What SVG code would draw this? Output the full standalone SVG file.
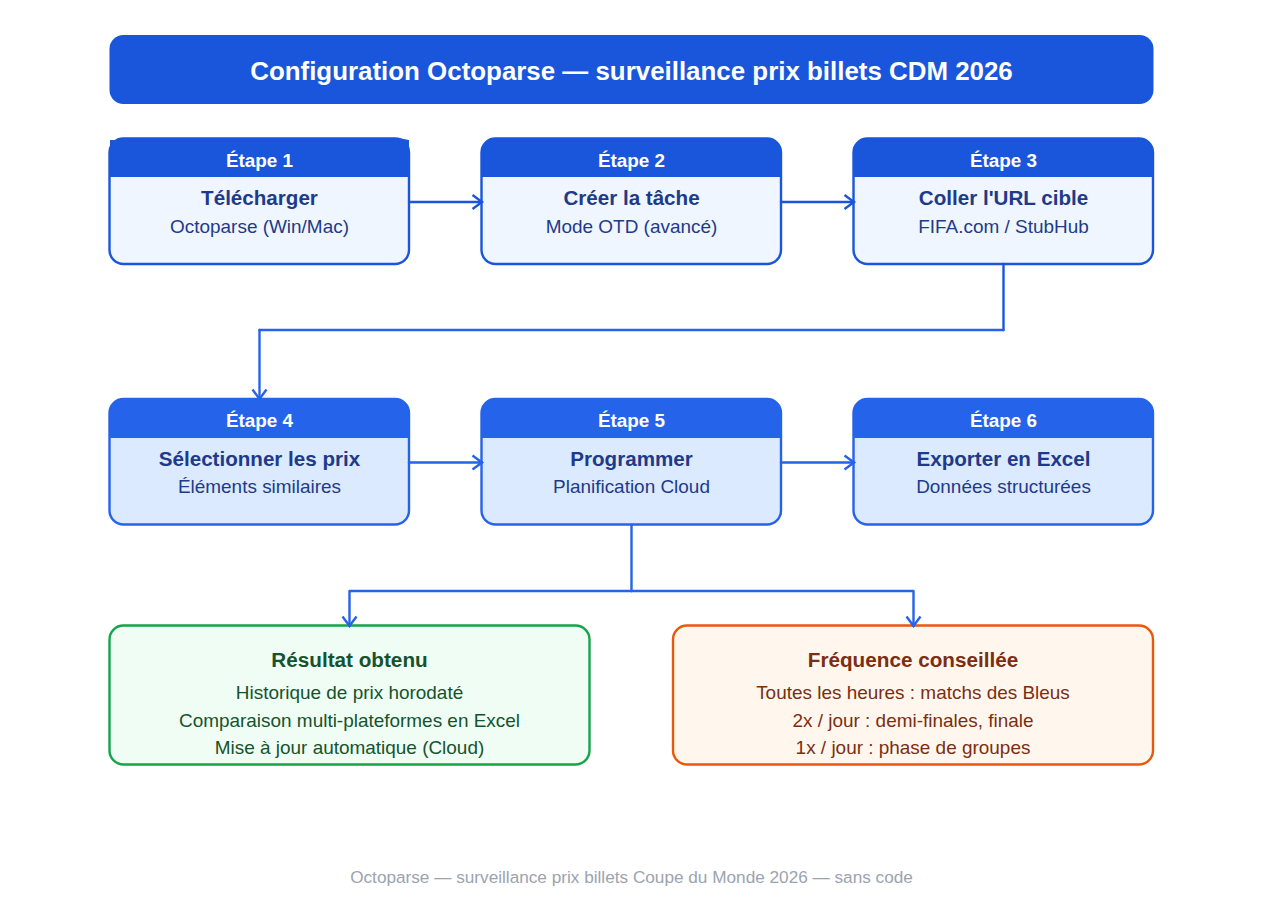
<svg xmlns="http://www.w3.org/2000/svg" width="1280" height="921" viewBox="0 0 1280 921">
<style>
text{font-family:"Liberation Sans",Arial,sans-serif;text-anchor:middle}
.h{font-size:18.9px;font-weight:700;fill:#fff}
.t{font-size:20.6px;font-weight:700;fill:#1e3a8a}
.s{font-size:18.95px;fill:#1e3a8a}
.a .b{fill:#eff6ff;stroke:#1a56db;stroke-width:2.4}
.a .f{fill:#1a56db}
.c .b{fill:#dbeafe;stroke:#2563eb;stroke-width:2.4}
.c .f{fill:#2563eb}
.l{fill:none;stroke-width:2.4;stroke-linecap:round;stroke-linejoin:round}
.l1{stroke:#1a56db}.l2{stroke:#2563eb}
</style>
<defs>
<marker id="m1" markerUnits="userSpaceOnUse" markerWidth="16" markerHeight="18" refX="12" refY="9" orient="auto"><path d="M2.500 2L12 9L2.500 16" fill="none" stroke="#1a56db" stroke-width="2.4"/></marker>
<marker id="m2" markerUnits="userSpaceOnUse" markerWidth="16" markerHeight="18" refX="12" refY="9" orient="auto"><path d="M2.500 2L12 9L2.500 16" fill="none" stroke="#2563eb" stroke-width="2.4"/></marker>
</defs>
<rect width="1280" height="921" fill="#fff"/>
<g id="title"><rect x="109.500" y="35" width="1044" height="69" rx="14" fill="#1a56db"/><text x="631.500" y="80" font-size="25.900" font-weight="700" fill="#fff">Configuration Octoparse — surveillance prix billets CDM 2026</text></g>
<g id="n1" class="a"><rect class="b" x="109.500" y="138.500" width="299.500" height="125.500" rx="14"/><path class="f" d="M109.500 177V152.500Q109.500 140 120 140L117 138.500H401L409 140V177Z"/><path class="f" d="M110 140H409V177H110Z"/><text class="h" x="259.500" y="166.500">Étape 1</text><text class="t" x="259.500" y="205">Télécharger</text><text class="s" x="259.500" y="233">Octoparse (Win/Mac)</text></g>
<g id="n2" class="a"><rect class="b" x="481.500" y="138.500" width="299.500" height="125.500" rx="14"/><path class="f" d="M481.500 177V152.500A14 14 0 0 1 495.500 138.500H767A14 14 0 0 1 781 152.500V177Z"/><text class="h" x="631.500" y="166.500">Étape 2</text><text class="t" x="631.500" y="205">Créer la tâche</text><text class="s" x="631.500" y="233">Mode OTD (avancé)</text></g>
<g id="n3" class="a"><rect class="b" x="853.500" y="138.500" width="299.500" height="125.500" rx="14"/><path class="f" d="M853.500 177V152.500A14 14 0 0 1 867.500 138.500H1139A14 14 0 0 1 1153 152.500V177Z"/><text class="h" x="1003.500" y="166.500">Étape 3</text><text class="t" x="1003.500" y="205">Coller l'URL cible</text><text class="s" x="1003.500" y="233">FIFA.com / StubHub</text></g>
<g id="n4" class="c"><rect class="b" x="109.500" y="399" width="299.500" height="125.500" rx="14"/><path class="f" d="M109.500 438V413A14 14 0 0 1 123.500 399H395A14 14 0 0 1 409 413V438Z"/><text class="h" x="259.500" y="427">Étape 4</text><text class="t" x="259.500" y="465.500">Sélectionner les prix</text><text class="s" x="259.500" y="493">Éléments similaires</text></g>
<g id="n5" class="c"><rect class="b" x="481.500" y="399" width="299.500" height="125.500" rx="14"/><path class="f" d="M481.500 438V413A14 14 0 0 1 495.500 399H767A14 14 0 0 1 781 413V438Z"/><text class="h" x="631.500" y="427">Étape 5</text><text class="t" x="631.500" y="465.500">Programmer</text><text class="s" x="631.500" y="493">Planification Cloud</text></g>
<g id="n6" class="c"><rect class="b" x="853.500" y="399" width="299.500" height="125.500" rx="14"/><path class="f" d="M853.500 438V413A14 14 0 0 1 867.500 399H1139A14 14 0 0 1 1153 413V438Z"/><text class="h" x="1003.500" y="427">Étape 6</text><text class="t" x="1003.500" y="465.500">Exporter en Excel</text><text class="s" x="1003.500" y="493">Données structurées</text></g>
<g id="n7"><rect x="109.500" y="625.500" width="480" height="139" rx="14" fill="#f0fdf4" stroke="#16a34a" stroke-width="2.400"/><text x="349.500" y="667" font-size="20.700" font-weight="700" fill="#14532d">Résultat obtenu</text><g font-size="18.950" fill="#14532d"><text x="349.500" y="698.500">Historique de prix horodaté</text><text x="349.500" y="726.500">Comparaison multi-plateformes en Excel</text><text x="349.500" y="754">Mise à jour automatique (Cloud)</text></g></g>
<g id="n8"><rect x="673" y="625.500" width="480" height="139" rx="14" fill="#fff7ed" stroke="#ea580c" stroke-width="2.400"/><text x="913" y="667" font-size="20.700" font-weight="700" fill="#7c2d12">Fréquence conseillée</text><g font-size="18.950" fill="#7c2d12"><text x="913" y="698.500">Toutes les heures : matchs des Bleus</text><text x="913" y="726.500">2x / jour : demi-finales, finale</text><text x="913" y="754">1x / jour : phase de groupes</text></g></g>
<g id="connectors">
<path class="l l1" marker-end="url(#m1)" d="M409 202H482"/>
<path class="l l1" marker-end="url(#m1)" d="M781 202H854"/>
<path class="l l1" d="M1003.500 264V330"/>
<path class="l l2" d="M1003.500 330H259.500"/>
<path class="l l2" marker-end="url(#m2)" d="M259.500 330V399"/>
<path class="l l2" marker-end="url(#m2)" d="M409 462.500H482"/>
<path class="l l2" marker-end="url(#m2)" d="M781 462.500H854"/>
<path class="l l2" d="M631.500 525V591"/>
<path class="l l2" marker-end="url(#m2)" d="M631.500 591H349.500V626"/>
<path class="l l2" marker-end="url(#m2)" d="M631.500 591H913.500V626"/>
</g>
<text id="footer" x="631.500" y="882.500" font-size="17.200" fill="#9ca3af">Octoparse — surveillance prix billets Coupe du Monde 2026 — sans code</text>
</svg>
